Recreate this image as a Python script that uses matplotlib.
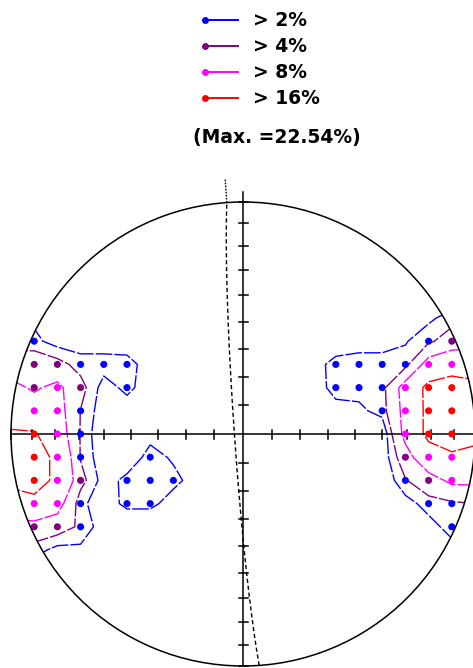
import numpy as np
import matplotlib
matplotlib.use("Agg")
import matplotlib.pyplot as plt
from matplotlib.patches import Circle

# contour levels (% per 1% area) and their colours
levels = [2, 4, 8, 16]
level_colors = ["#0000ff", "#800080", "#ff00ff", "#ff0000"]
max_density = 22.54

# counting grid: columns i = -10..10 (x = i/10), rows j = 6..-6 (y = j/10)
grid_cols = np.arange(-10, 11)
grid_rows = np.arange(6, -7, -1)
density = [
    # -10  -9   -8   -7   -6   -5   -4   -3  -2 -1  0  1  2  3    4    5    6    7    8    9   10
    [0,    0,   0,   0,   0,   0,   0,   0,   0, 0, 0, 0, 0, 0,   0,   0,   0,   0,   0,   0,   0],
    [1,    1.5, 0.5, 0,   0,   0,   0,   0,   0, 0, 0, 0, 0, 0,   0,   0,   0,   0,   1.5, 3,   3],
    [2.6,  2.6, 1.0, 0.8, 0.8, 0.8, 0,   0,   0, 0, 0, 0, 0, 0,   0.5, 1,   1,   1.8, 3.5, 5.5, 6],
    [6,    6,   5,   3,   3,   2.8, 1,   0,   0, 0, 0, 0, 0, 1,   2.8, 3,   3,   3,   10,  12,  12],
    [9,    7.5, 9,   5,   1,   2.6, 0.8, 0,   0, 0, 0, 0, 0, 0.8, 2.8, 2.8, 3,   10,  18,  20,  18],
    [12,   10,  10,  3.9, 0.7, 0.8, 0.5, 0,   0, 0, 0, 0, 0, 0.5, 1.2, 1.5, 2.8, 9.5, 18,  20,  18],
    [17,   16.8, 11, 3.8, 0,   0.5, 1.3, 0.5, 0, 0, 0, 0, 0, 0,   0,   0,   0,   9.5, 18,  22.54, 18],
    [20,   20,  14,  3.8, 0.5, 0.5, 2.8, 1.7, 0, 0, 0, 0, 0, 0,   0,   0,   0.5, 6,   12,  14,  14],
    [18,   19,  14.5, 5,  1,   2.6, 2.8, 2.6, 1.1, 0, 0, 0, 0, 0, 0,   0,   0,   3.8, 6,   9,   9],
    [12,   14,  10,  2.5, 0.8, 2.6, 2.6, 1.0, 0, 0, 0, 0, 0, 0,   0,   0,   0,   1,   3,   3.5, 4],
    [6,    6,   5.5, 3.5, 0.8, 0,   0,   0,   0, 0, 0, 0, 0, 0,   0,   0,   0,   0,   1,   3,   3],
    [3,    3,   1.2, 1.5, 0,   0,   0,   0,   0, 0, 0, 0, 0, 0,   0,   0,   0,   0,   0,   1,   1],
    [0,    0,   0,   0,   0,   0,   0,   0,   0, 0, 0, 0, 0, 0,   0,   0,   0,   0,   0,   0,   0],
]

# great circle (strike / dip, degrees)
plane_strike = 176
plane_dip = 87

# tick marks every 10 degrees on the equal-area net
tick_angles = np.arange(10, 91, 10)

W, H = 473, 668
cx, cy, R = 243, 434, 232   # net centre and radius in pixels


def px(x, y):
    # pixel position -> net units
    return (x - cx) / R, (cy - y) / R


fig = plt.figure(figsize=(W / 100, H / 100), dpi=100)
ax = fig.add_axes([0, 0, 1, 1])
ax.set_xlim(-cx / R, (W - cx) / R)
ax.set_ylim((cy - H) / R, cy / R)
ax.axis("off")

# primitive circle
prim = Circle((0, 0), 1, fill=False, ec="black", lw=1.1, zorder=3)
ax.add_patch(prim)
clip = Circle((0, 0), 1, transform=ax.transData)

# axes with equal-area ticks
ax.plot([-1, 1], [0, 0], color="black", lw=1.1, zorder=3)
ax.plot([0, 0], [-1, 1.043], color="black", lw=1.1, zorder=3)
tr = np.sqrt(2) * np.sin(np.radians(tick_angles) / 2)
tl = 4.5 / R
for r in tr:
    for sgn in (-1, 1):
        ax.plot([sgn * r, sgn * r], [-tl, tl], color="black", lw=1.1, zorder=3)
        ax.plot([-tl, tl], [sgn * r, sgn * r], color="black", lw=1.1, zorder=3)

# density contours
Z = np.array(density, dtype=float)
X, Y = np.meshgrid(grid_cols / 10, grid_rows / 10)
cs = ax.contour(X, Y, Z, levels=levels, colors=level_colors, linewidths=1.0,
                linestyles=[(0, (12, 1.5))] * len(levels), zorder=2)
cs.set_clip_path(clip)

# grid points above the lowest level
inside = np.hypot(X, Y) < 0.99
mask = inside & (Z >= levels[0])
cls = np.digitize(Z[mask], levels) - 1
ax.scatter(X[mask], Y[mask], s=26, c=[level_colors[k] for k in cls],
           linewidths=0, zorder=4)

# great circle of the plane
strike = np.radians(plane_strike)
dip = np.radians(plane_dip)
dd = strike + np.pi / 2
t = np.linspace(0, np.pi, 181)
s_vec = np.array([np.sin(strike), np.cos(strike), 0.0])
d_vec = np.array([np.sin(dd) * np.cos(dip), np.cos(dd) * np.cos(dip), np.sin(dip)])
v = np.outer(np.cos(t), s_vec) + np.outer(np.sin(t), d_vec)
plunge = np.arcsin(np.clip(v[:, 2], -1, 1))
trend = np.arctan2(v[:, 0], v[:, 1])
rr = np.sqrt(2) * np.sin((np.pi / 2 - plunge) / 2)
ax.plot(rr * np.sin(trend), rr * np.cos(trend), color="black", lw=1.0,
        linestyle=(0, (3, 2)), zorder=3)
# strike mark beyond the primitive
north = strike + np.pi
ax.plot([np.sin(north), 1.1 * np.sin(north)], [np.cos(north), 1.1 * np.cos(north)],
        color="black", lw=1.0, linestyle=(0, (1.2, 1)), zorder=3)

# legend
for k, (lv, col) in enumerate(zip(levels, level_colors)):
    yy = 20 + 26 * k
    x0, y0 = px(205, yy)
    x1, _ = px(238, yy)
    ax.plot([x0, x1], [y0, y0], color=col, lw=1.4)
    ax.plot([x0], [y0], "o", color=col, ms=5, mec="none")
    tx, ty = px(253, yy)
    ax.text(tx, ty, f"> {lv}%", fontsize=13.5, fontweight="bold",
            family="DejaVu Sans", va="center", ha="left")
tx, ty = px(193, 138)
ax.text(tx, ty, f"(Max. ={max_density:.2f}%)", fontsize=13.5, fontweight="bold",
        family="DejaVu Sans", va="center", ha="left")

fig.savefig("out.png", dpi=100)
